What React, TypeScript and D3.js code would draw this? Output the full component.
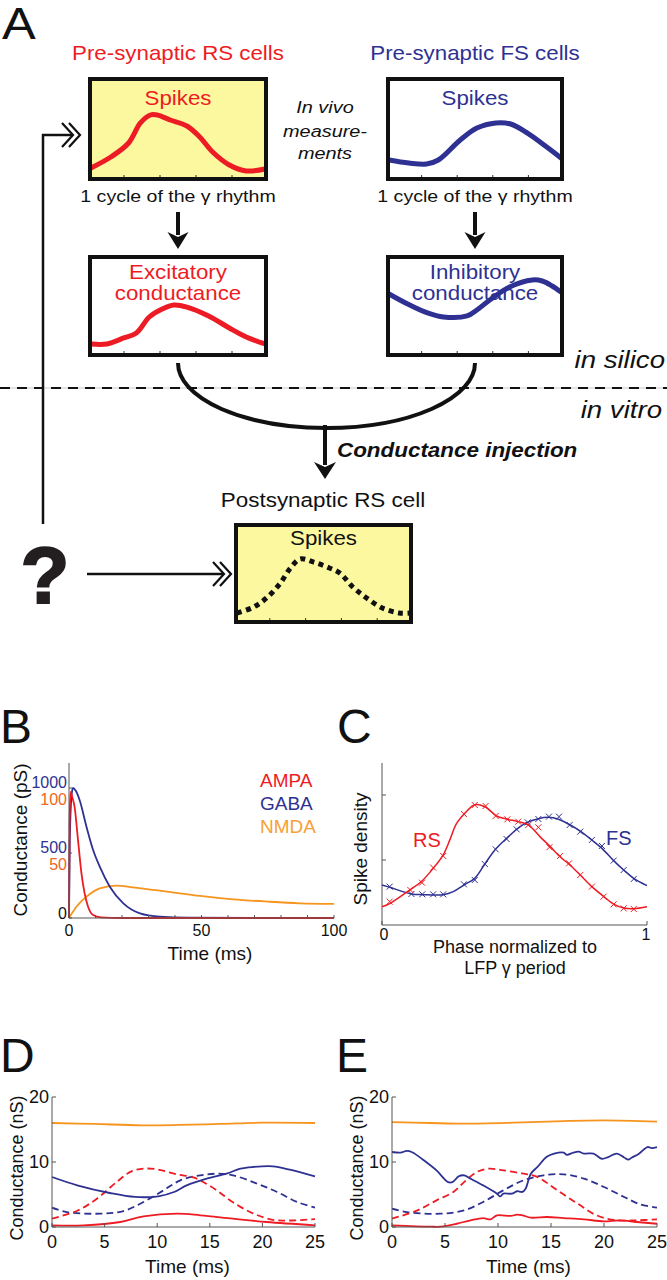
import React from 'react';
import * as d3 from 'd3';

type P = [number, number];

const RED = '#ed1c24';
const BLUE = '#2e3192';
const ORANGE = '#f7941d';
const FONT = '"Liberation Sans", Arial, Helvetica, sans-serif';

// ---------- Panel A : schematic curves (phase 0..1, relative amplitude 0..1) ----------
const rsSpikes: P[] = [[0,0.094],[0.114,0.208],[0.216,0.354],[0.284,0.563],[0.341,0.646],[0.381,0.646],[0.455,0.594],[0.551,0.531],[0.625,0.417],[0.699,0.26],[0.795,0.125],[0.892,0.063],[1,0.083]];
const fsSpikes: P[] = [[0,0.177],[0.115,0.146],[0.218,0.135],[0.287,0.177],[0.414,0.385],[0.511,0.51],[0.621,0.563],[0.707,0.552],[0.805,0.458],[0.925,0.302],[1,0.198]];
const excCond: P[] = [[0,0.096],[0.091,0.096],[0.188,0.16],[0.261,0.213],[0.335,0.383],[0.409,0.468],[0.477,0.511],[0.551,0.489],[0.676,0.394],[0.795,0.266],[0.892,0.17],[1,0.096]];
const inhCond: P[] = [[0,0.628],[0.109,0.521],[0.224,0.426],[0.316,0.383],[0.454,0.394],[0.511,0.457],[0.586,0.564],[0.701,0.702],[0.833,0.777],[0.891,0.766],[0.948,0.713],[1,0.649]];
const postSpikes: P[] = [[0,0.075],[0.097,0.14],[0.177,0.247],[0.251,0.398],[0.309,0.559],[0.366,0.656],[0.44,0.624],[0.52,0.57],[0.594,0.505],[0.669,0.355],[0.749,0.237],[0.84,0.129],[0.937,0.075],[1,0.075]];

// ---------- Panel B : unitary conductances (time ms, pS) ----------
const ampa: P[] = [[0,0],[0.2,70],[0.6,97],[1.2,93],[2.1,85.6],[3.4,60],[4.7,34.3],[5.9,19],[7.2,8.7],[9.1,2.3],[12,0.5],[20,0],[100,0]];
const gaba: P[] = [[0,0],[0.3,600],[1,950],[1.5,1000],[2.5,980],[4,908],[6.6,702],[9.1,523],[11.6,395],[15.4,241],[20.5,113],[26.8,36],[34.3,10],[45,2],[100,0]];
const nmda: P[] = [[0,0],[2.8,8.7],[6.6,16.4],[11.6,22.8],[17.9,24.9],[24,23.6],[37,20.3],[49.5,17],[62,14.4],[75,12.6],[87,11.3],[100,10.8]];
const bXTicks = [0, 50, 100];
const bLegend = ['AMPA', 'GABA', 'NMDA'];

// ---------- Panel C : spike density vs phase ----------
const rsFit: P[] = [[0,0.28],[0.029,0.33],[0.105,0.54],[0.149,0.67],[0.193,0.87],[0.231,1.08],[0.256,1.31],[0.281,1.56],[0.313,1.72],[0.35,1.85],[0.388,1.82],[0.432,1.68],[0.47,1.63],[0.514,1.59],[0.552,1.54],[0.596,1.36],[0.634,1.21],[0.672,1.05],[0.71,0.92],[0.748,0.77],[0.792,0.59],[0.836,0.44],[0.874,0.32],[0.912,0.26],[0.95,0.25],[1,0.28]];
const rsPts: P[] = [[0.029,0.36],[0.107,0.539],[0.151,0.651],[0.193,0.882],[0.231,1.062],[0.309,1.708],[0.35,1.846],[0.391,1.831],[0.429,1.677],[0.473,1.626],[0.514,1.59],[0.552,1.538],[0.59,1.503],[0.632,1.197],[0.672,1.062],[0.706,0.949],[0.748,0.769],[0.792,0.59],[0.836,0.436],[0.874,0.318],[0.912,0.256],[0.95,0.246]];
const fsFit: P[] = [[0,0.615],[0.029,0.58],[0.111,0.477],[0.155,0.467],[0.231,0.467],[0.269,0.513],[0.309,0.615],[0.35,0.718],[0.388,0.938],[0.426,1.154],[0.47,1.333],[0.508,1.472],[0.546,1.574],[0.59,1.636],[0.628,1.656],[0.666,1.626],[0.71,1.538],[0.748,1.446],[0.792,1.308],[0.83,1.179],[0.874,0.99],[0.912,0.846],[0.95,0.718],[1,0.605]];
const fsPts: P[] = [[0.029,0.59],[0.111,0.477],[0.152,0.472],[0.193,0.472],[0.231,0.472],[0.309,0.626],[0.35,0.692],[0.388,0.938],[0.429,1.164],[0.47,1.323],[0.508,1.472],[0.55,1.579],[0.59,1.631],[0.63,1.667],[0.668,1.667],[0.708,1.538],[0.748,1.436],[0.792,1.308],[0.83,1.216],[0.874,0.99],[0.912,0.846],[0.95,0.708]];

// ---------- Panels D & E : conductances during one gamma cycle (ms, nS) ----------
const dOrange: P[] = [[0,16.0],[4,15.85],[8.5,15.65],[12,15.7],[16,15.85],[20,16.05],[25,16.0]];
const dBlueSolid: P[] = [[0,7.69],[2.4,6.41],[5.5,5.23],[7.9,4.62],[10.1,4.72],[11.6,5.38],[12.8,6.41],[14.7,7.44],[16.6,8.21],[17.9,8.97],[19.1,9.23],[21,9.33],[22.6,8.82],[25,7.79]];
const dRedDashed: P[] = [[0,1.3],[2.4,2.5],[4.3,4.4],[6.2,7.0],[7.6,8.6],[9,9.0],[10.2,8.8],[11.9,8.1],[13.5,7.6],[14.5,6.8],[15.7,5.6],[17.2,3.8],[19.1,2.1],[21,1.1],[22.6,1.0],[25,1.2]];
const dBlueDashed: P[] = [[0,2.97],[1.4,2.3],[4.6,2.05],[6.8,2.46],[8.7,3.85],[10.6,5.64],[12.2,7.18],[14.1,7.95],[15.7,8.2],[17.2,7.95],[19.5,6.67],[21.4,5.38],[23.3,3.85],[25,2.97]];
const dRedSolid: P[] = [[0,0.26],[3,0.26],[6.5,0.77],[8.7,1.64],[11.9,2.05],[14.1,1.8],[17.2,1.28],[20.4,0.77],[25,0.26]];

const eOrange: P[] = [[0,16.15],[3.6,16.0],[6.8,15.9],[11.5,16.05],[16.2,16.3],[20,16.4],[25,16.2]];
const eBlueSolid: P[] = [[0,11.54],[0.8,11.44],[1.4,11.7],[1.9,11.5],[3.0,10.26],[4.2,8.7],[5.3,6.9],[5.7,6.9],[6.3,7.8],[6.8,7.95],[7.4,7.44],[8.6,6.4],[9.9,5.13],[10.2,4.7],[10.5,5.13],[11.3,5.13],[11.8,5.5],[12.3,5.4],[12.6,5.9],[13.1,8.2],[13.7,9.2],[14.6,10.8],[15.3,11.3],[16.2,11.44],[16.5,11.1],[17.1,11.44],[17.6,11.6],[18.1,11.3],[19.0,11.3],[19.8,10.5],[20.4,10.76],[21.2,11.3],[21.9,10.7],[22.3,10.36],[22.6,10.66],[23.3,11.28],[24.1,12.3],[24.5,12.15],[25,12.3]];
const eRedDashed: P[] = [[0,1.28],[2.4,2.56],[4.2,4.1],[5.8,5.4],[6.8,6.9],[8,8.46],[9.1,8.97],[10.5,8.72],[12.4,8.2],[13.7,7.7],[15.6,5.64],[17.5,3.6],[19.3,1.8],[21.2,1.03],[23.1,1.03],[25,1.18]];
const eBlueDashed: P[] = [[0,2.82],[1.4,2.3],[4.6,2.05],[6.8,2.56],[8.6,3.85],[10.5,5.64],[12.4,7.18],[14.3,7.95],[16.2,8.1],[18.1,7.44],[20,6.15],[21.9,4.62],[23.4,3.49],[25,2.97]];
const eRedSolid: P[] = [[0,0.26],[3.6,0.05],[4.6,0.05],[6.1,0.5],[7.4,1.03],[8.6,1.38],[9.3,1.18],[9.9,1.8],[11.2,1.7],[11.8,1.9],[12.3,1.8],[13.1,1.44],[14.6,1.54],[16.2,1.38],[18.1,1.18],[20,0.87],[21.5,1.03],[23.1,0.77],[25,0.5]];

const deXTicks = [0, 5, 10, 15, 20, 25];
const deYTicks = [0, 10, 20];

// ---------- helpers ----------
type TProps = {
  x: number; y: number; size: number; fill?: string; anchor?: string;
  italic?: boolean; bold?: boolean; sx?: number; rotate?: number; children: React.ReactNode;
};
function T({ x, y, size, fill = '#111', anchor = 'middle', italic, bold, sx = 1, rotate, children }: TProps) {
  const tr = `translate(${x},${y})` + (rotate ? ` rotate(${rotate})` : '') + (sx !== 1 ? ` scale(${sx},1)` : '');
  return (
    <text transform={tr} fontSize={size} fill={fill} textAnchor={anchor as any}
      fontStyle={italic ? 'italic' : 'normal'} fontWeight={bold ? 'bold' : 'normal'} fontFamily={FONT}>
      {children}
    </text>
  );
}

type Box = { x: number; y: number; w: number; h: number };

function SchemBox({ b, fill, data, color, dotted, labels, labelColor }: {
  b: Box; fill: string; data: P[]; color: string; dotted?: boolean; labels: { text: string; y: number }[]; labelColor: string;
}) {
  const sx = d3.scaleLinear([0, 1], [b.x + 3, b.x + b.w - 3]);
  const sy = d3.scaleLinear([0, 1], [b.y + b.h - 4, b.y + 4]);
  const line = d3.line<P>().x(d => sx(d[0])).y(d => sy(d[1])).curve(d3.curveCatmullRom.alpha(0.5));
  const ticks = [1, 2, 3, 4].map(i => b.x + (b.w * i) / 5);
  return (
    <g>
      <rect x={b.x + 2} y={b.y + 2} width={b.w - 4} height={b.h - 4} fill={fill} />
      {labels.map((l, i) => (
        <T key={i} x={b.x + b.w / 2} y={l.y} size={19.4} fill={labelColor} sx={1.15}>{l.text}</T>
      ))}
      <path d={line(data) || ''} fill="none" stroke={color} strokeWidth={5}
        strokeDasharray={dotted ? '5,4.5' : undefined} strokeLinecap={dotted ? 'butt' : 'round'} strokeLinejoin="round" />
      {ticks.map((t, i) => (
        <line key={i} x1={t} x2={t} y1={b.y + b.h - 2} y2={b.y + b.h - 6} stroke="#333" strokeWidth={1} />
      ))}
      <rect x={b.x + 2} y={b.y + 2} width={b.w - 4} height={b.h - 4} fill="none" stroke="#111" strokeWidth={4} />
    </g>
  );
}

function DownArrow({ x, y1, y2, w = 21, head = 17 }: { x: number; y1: number; y2: number; w?: number; head?: number }) {
  return (
    <g>
      <line x1={x} x2={x} y1={y1} y2={y2 - head + 3} stroke="#111" strokeWidth={4} />
      <path d={`M${x - w / 2},${y2 - head} L${x},${y2 - head + 5} L${x + w / 2},${y2 - head} L${x},${y2} Z`} fill="#111" />
    </g>
  );
}

function Chevrons({ x, y }: { x: number; y: number }) {
  return (
    <g fill="none" stroke="#111" strokeWidth={2.2}>
      <path d={`M${x - 18},${y - 12} L${x - 7},${y} L${x - 18},${y + 12}`} />
      <path d={`M${x - 11},${y - 12} L${x},${y} L${x - 11},${y + 12}`} />
    </g>
  );
}

const AXIS = '#555';

function PanelA() {
  const rsBox = { x: 88, y: 77, w: 180, h: 104 };
  const fsBox = { x: 386, y: 77, w: 178, h: 104 };
  const excBox = { x: 88, y: 255, w: 180, h: 102 };
  const inhBox = { x: 386, y: 255, w: 178, h: 102 };
  const postBox = { x: 234, y: 523, w: 179, h: 101 };
  const uMid = (excBox.x + excBox.w / 2 + inhBox.x + inhBox.w / 2) / 2;
  return (
    <g>
      <T x={2} y={39} size={44} anchor="start" sx={1.15}>A</T>
      <T x={178} y={60} size={19.4} fill={RED} sx={1.15}>Pre-synaptic RS cells</T>
      <T x={475} y={60} size={19.4} fill={BLUE} sx={1.15}>Pre-synaptic FS cells</T>

      <SchemBox b={rsBox} fill="#fcf8a0" data={rsSpikes} color={RED} labels={[{ text: 'Spikes', y: 105 }]} labelColor={RED} />
      <SchemBox b={fsBox} fill="#fff" data={fsSpikes} color={BLUE} labels={[{ text: 'Spikes', y: 105 }]} labelColor={BLUE} />

      <T x={325} y={113} size={17.3} italic sx={1.15}>In vivo</T>
      <T x={325} y={137} size={17.3} italic sx={1.15}>measure-</T>
      <T x={325} y={159} size={17.3} italic sx={1.15}>ments</T>

      <T x={178} y={202} size={17} sx={1.15}>1 cycle of the γ rhythm</T>
      <T x={475} y={202} size={17} sx={1.15}>1 cycle of the γ rhythm</T>

      <DownArrow x={178} y1={212} y2={249} />
      <DownArrow x={475} y1={212} y2={249} />

      <SchemBox b={excBox} fill="#fff" data={excCond} color={RED}
        labels={[{ text: 'Excitatory', y: 279 }, { text: 'conductance', y: 300 }]} labelColor={RED} />
      <SchemBox b={inhBox} fill="#fff" data={inhCond} color={BLUE}
        labels={[{ text: 'Inhibitory', y: 279 }, { text: 'conductance', y: 300 }]} labelColor={BLUE} />

      <T x={665} y={368} size={24} italic anchor="end" sx={1.15}>in silico</T>
      <line x1={0} x2={667} y1={388} y2={388} stroke="#bbb" strokeWidth={0.8} />
      <line x1={0} x2={667} y1={388} y2={388} stroke="#111" strokeWidth={2.2} strokeDasharray="10,7" />
      <T x={662} y={418} size={24} italic anchor="end" sx={1.15}>in vitro</T>

      <path d={`M${excBox.x + excBox.w / 2},${excBox.y + excBox.h + 6} A ${uMid - (excBox.x + excBox.w / 2)} 65 0 0 0 ${inhBox.x + inhBox.w / 2} ${inhBox.y + inhBox.h + 6}`}
        fill="none" stroke="#111" strokeWidth={4} />
      <DownArrow x={uMid - 1.5} y1={425} y2={479} w={22} />
      <T x={337} y={457} size={19.5} italic bold anchor="start" sx={1.15}>Conductance injection</T>

      <T x={323} y={507} size={19.5} sx={1.15}>Postsynaptic RS cell</T>
      <SchemBox b={postBox} fill="#fcf8a0" data={postSpikes} color="#111" dotted labels={[{ text: 'Spikes', y: 545 }]} labelColor="#111" />

      {/* feedback path */}
      <line x1={43} x2={43} y1={134} y2={524} stroke="#111" strokeWidth={2.5} />
      <line x1={42} x2={73} y1={135} y2={135} stroke="#111" strokeWidth={2.5} />
      <Chevrons x={80} y={135} />
      <text x={45} y={603} fontSize={80} fontWeight="bold" textAnchor="middle" fontFamily={FONT}
        fill="#231f20" stroke="#231f20" strokeWidth={2}>?</text>
      <line x1={87} x2={224} y1={574} y2={574} stroke="#111" strokeWidth={2.5} />
      <Chevrons x={231} y={574} />
    </g>
  );
}

function PanelB() {
  const x = d3.scaleLinear([0, 100], [69, 334]);
  const yG = d3.scaleLinear([0, 1000], [918, 788]);
  const yN = d3.scaleLinear([0, 100], [918, 788]);
  const lineG = d3.line<P>().x(d => x(d[0])).y(d => yG(d[1])).curve(d3.curveMonotoneX);
  const lineN = d3.line<P>().x(d => x(d[0])).y(d => yN(d[1])).curve(d3.curveMonotoneX);
  const legendColors = [RED, BLUE, '#f8a038'];
  return (
    <g>
      <T x={0} y={743} size={48} anchor="start">B</T>
      <path d={lineN(nmda) || ''} fill="none" stroke={ORANGE} strokeWidth={1.8} />
      <path d={lineG(gaba) || ''} fill="none" stroke={BLUE} strokeWidth={1.8} />
      <path d={lineN(ampa) || ''} fill="none" stroke={RED} strokeWidth={1.8} />
      <line x1={x(0)} x2={x(0)} y1={763} y2={yG(0)} stroke={AXIS} strokeWidth={1} />
      <line x1={x(0)} x2={x(100)} y1={yG(0)} y2={yG(0)} stroke={AXIS} strokeWidth={1} />
      {d3.range(0, 101, 10).map(t => (
        <line key={t} x1={x(t)} x2={x(t)} y1={yG(0)} y2={yG(0) - 3} stroke={AXIS} strokeWidth={1} />
      ))}
      {[0, 500, 1000].map(v => (
        <line key={v} x1={x(0)} x2={x(0) + 3} y1={yG(v)} y2={yG(v)} stroke={AXIS} strokeWidth={1} />
      ))}
      {bXTicks.map(t => (
        <T key={t} x={x(t)} y={936} size={16}>{String(t)}</T>
      ))}
      <T x={67} y={yG(1000)} size={16} anchor="end" fill={BLUE}>1000</T>
      <T x={67} y={yN(100) + 17} size={16} anchor="end" fill="#f26522">100</T>
      <T x={67} y={yG(500)} size={16} anchor="end" fill={BLUE}>500</T>
      <T x={67} y={yN(50) + 17} size={16} anchor="end" fill="#f26522">50</T>
      <T x={67} y={yG(0) + 1} size={16} anchor="end">0</T>
      {bLegend.map((l, i) => (
        <T key={l} x={260} y={787 + i * 23} size={19} anchor="start" fill={legendColors[i]}>{l}</T>
      ))}
      <T x={210} y={960} size={19}>Time (ms)</T>
      <T x={27} y={840} size={19} rotate={-90}>Conductance (pS)</T>
    </g>
  );
}

function Cross({ x, y, color }: { x: number; y: number; color: string }) {
  return <path d={`M${x - 3},${y - 3}L${x + 3},${y + 3}M${x - 3},${y + 3}L${x + 3},${y - 3}`} stroke={color} strokeWidth={1} />;
}

function PanelC() {
  const x = d3.scaleLinear([0, 1], [382, 647]);
  const y = d3.scaleLinear([0, 2.5], [925, 762.5]);
  const line = d3.line<P>().x(d => x(d[0])).y(d => y(d[1])).curve(d3.curveCatmullRom.alpha(0.5));
  return (
    <g>
      <T x={337} y={743} size={48} anchor="start">C</T>
      <line x1={x(0)} x2={x(0)} y1={763} y2={y(0)} stroke={AXIS} strokeWidth={1} />
      <line x1={x(0)} x2={x(1)} y1={y(0)} y2={y(0)} stroke={AXIS} strokeWidth={1} />
      {[1, 2].map(v => (
        <line key={v} x1={x(0)} x2={x(0) + 4} y1={y(v)} y2={y(v)} stroke={AXIS} strokeWidth={1} />
      ))}
      {[0, 1].map(v => (
        <line key={v} x1={x(v)} x2={x(v)} y1={y(0)} y2={y(0) - 4} stroke={AXIS} strokeWidth={1} />
      ))}
      <path d={line(fsFit) || ''} fill="none" stroke={BLUE} strokeWidth={1.5} />
      <path d={line(rsFit) || ''} fill="none" stroke={RED} strokeWidth={1.5} />
      {fsPts.map((p, i) => <Cross key={'f' + i} x={x(p[0])} y={y(p[1])} color={BLUE} />)}
      {rsPts.map((p, i) => <Cross key={'r' + i} x={x(p[0])} y={y(p[1])} color={RED} />)}
      <T x={413} y={847} size={20} anchor="start" fill={RED}>RS</T>
      <T x={606} y={845} size={20} anchor="start" fill={BLUE}>FS</T>
      <T x={x(0) + 2} y={940} size={16}>0</T>
      <T x={x(1) - 1} y={940} size={16}>1</T>
      <T x={515} y={953} size={18}>Phase normalized to</T>
      <T x={515} y={974} size={18}>LFP γ period</T>
      <T x={367} y={849} size={19} rotate={-90}>Spike density</T>
    </g>
  );
}

function CondPanel({ letter, letterX, left, right, series }: {
  letter: string; letterX: number; left: number; right: number;
  series: { data: P[]; color: string; dashed?: boolean }[];
}) {
  const x = d3.scaleLinear([0, 25], [left, right]);
  const y = d3.scaleLinear([0, 20], [1227, 1097]);
  const line = d3.line<P>().x(d => x(d[0])).y(d => y(d[1])).curve(d3.curveCatmullRom.alpha(0.5));
  return (
    <g>
      <T x={letterX} y={1072} size={48} anchor="start">{letter}</T>
      {series.map((s, i) => (
        <path key={i} d={line(s.data) || ''} fill="none" stroke={s.color} strokeWidth={1.8}
          strokeDasharray={s.dashed ? '7,4' : undefined} />
      ))}
      <line x1={x(0)} x2={x(0)} y1={y(20)} y2={y(0)} stroke={AXIS} strokeWidth={1} />
      <line x1={x(0)} x2={x(25)} y1={y(0)} y2={y(0)} stroke={AXIS} strokeWidth={1} />
      {deXTicks.map(t => (
        <g key={t}>
          <line x1={x(t)} x2={x(t)} y1={y(0)} y2={y(0) - 4} stroke={AXIS} strokeWidth={1} />
          <T x={x(t)} y={1248} size={18}>{String(t)}</T>
        </g>
      ))}
      {deYTicks.map(v => (
        <g key={v}>
          <line x1={x(0)} x2={x(0) + 4} y1={y(v)} y2={y(v)} stroke={AXIS} strokeWidth={1} />
          <T x={x(0) - 3} y={y(v) + 6} size={18} anchor="end">{String(v)}</T>
        </g>
      ))}
      <T x={(left + right) / 2 + 4} y={1273} size={19}>Time (ms)</T>
      <T x={left - 29} y={1168} size={18} rotate={-90}>Conductance (nS)</T>
    </g>
  );
}

export default function App() {
  return (
    <svg width={667} height={1280} viewBox="0 0 667 1280"
      style={{ position: 'absolute', left: 0, top: 0, background: '#fff' }} fontFamily={FONT}>
      <rect x={0} y={0} width={667} height={1280} fill="#fff" />
      <PanelA />
      <PanelB />
      <PanelC />
      <CondPanel letter="D" letterX={0} left={52} right={315} series={[
        { data: dOrange, color: ORANGE },
        { data: dRedSolid, color: RED },
        { data: dBlueDashed, color: BLUE, dashed: true },
        { data: dRedDashed, color: RED, dashed: true },
        { data: dBlueSolid, color: BLUE },
      ]} />
      <CondPanel letter="E" letterX={336} left={392} right={657} series={[
        { data: eOrange, color: ORANGE },
        { data: eRedSolid, color: RED },
        { data: eBlueDashed, color: BLUE, dashed: true },
        { data: eRedDashed, color: RED, dashed: true },
        { data: eBlueSolid, color: BLUE },
      ]} />
    </svg>
  );
}
